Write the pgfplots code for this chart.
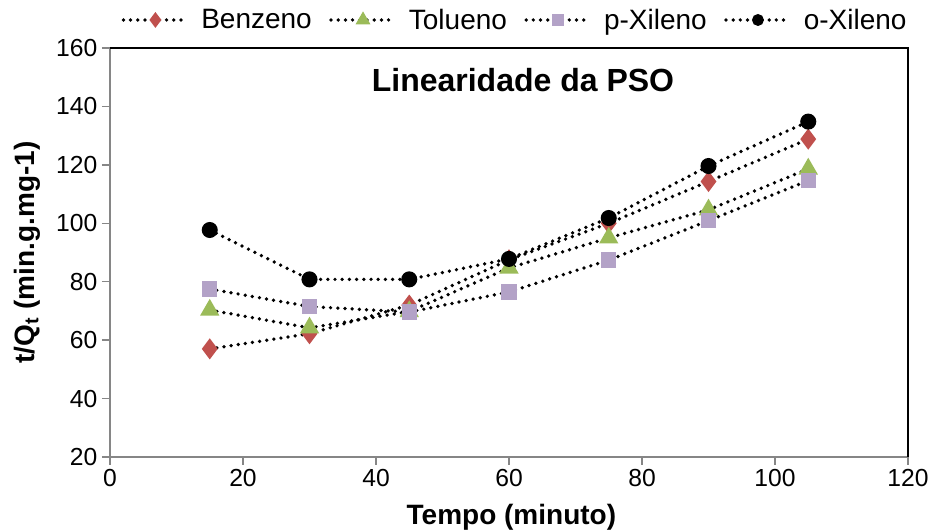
\documentclass[border=0pt]{standalone}
\usepackage{fontspec}
\setmainfont{Liberation Sans}
\usepackage{pgfplots}
\pgfplotsset{compat=1.18}
\definecolor{cBen}{HTML}{C0504D}
\definecolor{cTol}{HTML}{9BBB59}
\definecolor{cPX}{HTML}{B3A2C7}
\definecolor{axgray}{HTML}{868686}
\tikzset{dotl/.style={black, line width=2.8pt, dash pattern=on 0pt off 5.4pt, line cap=round}}
\begin{document}
\begin{tikzpicture}
\begin{axis}[
  name=ax,
  scale only axis,
  width=598.5pt, height=306.75pt,
  xmin=0, xmax=120, ymin=20, ymax=160,
  xtick={0,20,...,120}, ytick={20,40,...,160},
  xtick pos=left, ytick pos=left,
  tick align=outside,
  major tick length=6pt,
  tick style={axgray, line width=1pt},
  axis line style={draw=none},
  /pgf/number format/assume math mode=true,
  ticklabel style={font=\fontsize{18.5}{20}\selectfont},
  xlabel={\bfseries Tempo (minuto)},
  ylabel={\bfseries t/Q\textsubscript{t} (min.g.mg-1)},
  xlabel style={at={(axis description cs:0.503,-0.147)}, anchor=center, font=\fontsize{21}{24}\selectfont},
  ylabel style={at={(axis description cs:-0.104,0.5)}, anchor=center, font=\fontsize{21}{24}\selectfont},
  legend columns=4,
  legend style={at={(axis description cs:0.508,1)}, yshift=21pt, anchor=center, draw=none,
    font=\fontsize{21}{24}\selectfont,
    /tikz/every even column/.append style={column sep=11pt},
    /tikz/every odd column/.append style={column sep=7pt}},
  legend image code/.code={\draw[#1, mark repeat=2, mark phase=2, every mark/.append style={scale=0.65}] plot coordinates {(0pt,0pt) (24pt,0pt) (48pt,0pt)};},
  clip=false,
]
\draw[axgray, line width=1.2pt] (rel axis cs:0,1) -- (rel axis cs:0,0) -- (rel axis cs:1,0);
\draw[black, line width=1pt] (rel axis cs:0,1) -- (rel axis cs:1,1) -- (rel axis cs:1,0);
\addplot[dotl, mark=diamond*, mark size=5.6pt, mark options={solid, fill=cBen, draw=cBen}] coordinates {
 (15,57.0) (30,62.2) (45,72.0) (60,87.5) (75,100.0) (90,114.3) (105,128.8)};
\addlegendentry{Benzeno}
\addplot[dotl, mark=triangle*, mark size=5.6pt, mark options={solid, fill=cTol, draw=cTol}] coordinates {
 (15,70.3) (30,64.2) (45,69.8) (60,84.7) (75,95.0) (90,104.6) (105,118.6)};
\addlegendentry{Tolueno}
\addplot[dotl, mark=square*, mark size=4.4pt, mark options={solid, fill=cPX, draw=cPX}] coordinates {
 (15,77.5) (30,71.5) (45,69.6) (60,76.5) (75,87.4) (90,100.9) (105,114.6)};
\addlegendentry{p-Xileno}
\addplot[dotl, mark=*, mark size=4.6pt, mark options={solid, fill=black, draw=black}] coordinates {
 (15,97.7) (30,80.8) (45,80.8) (60,87.8) (75,101.8) (90,119.6) (105,134.8)};
\addlegendentry{o-Xileno}
\node[anchor=base, font=\fontsize{24}{28}\selectfont\bfseries] at (axis cs:62.1,145) {Linearidade da PSO};
\end{axis}
\pgfresetboundingbox
\path[use as bounding box] ([xshift=-82.5pt,yshift=-54.75pt]ax.south west) rectangle ([xshift=18.75pt,yshift=36pt]ax.north east);
\end{tikzpicture}
\end{document}
